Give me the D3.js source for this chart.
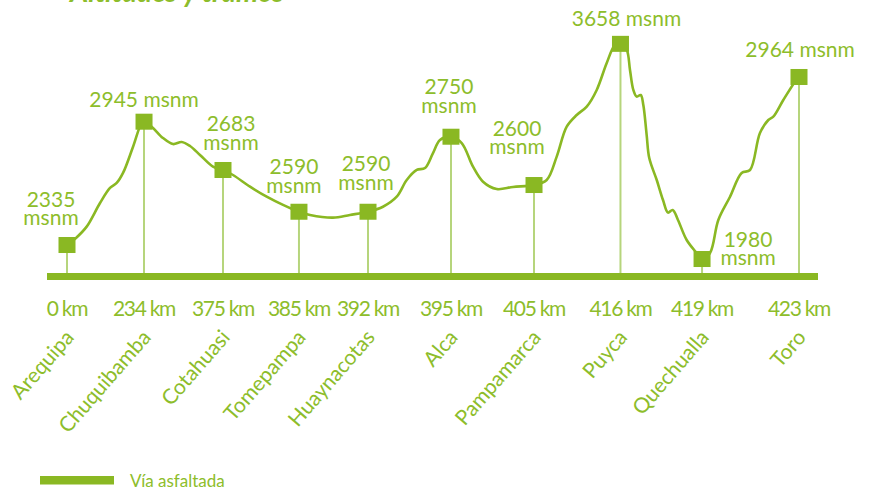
<!DOCTYPE html>
<html>
<head>
<meta charset="utf-8">
<script src="https://cdn.jsdelivr.net/npm/d3@7"></script>
<style>
  body { margin: 0; background: #fff; }
  svg { display: block; font-family: Lato, "Open Sans", sans-serif; }
</style>
</head>
<body>
<svg id="perfil" width="873" height="489"></svg>
<script>
// estaciones del recorrido
var estaciones = ['Arequipa', 'Chuquibamba', 'Cotahuasi', 'Tomepampa', 'Huaynacotas',
                  'Alca', 'Pampamarca', 'Puyca', 'Quechualla', 'Toro'];
var km = [0, 234, 375, 385, 392, 395, 405, 416, 419, 423];
var msnm = [2335, 2945, 2683, 2590, 2590, 2750, 2600, 3658, 1980, 2964];

// posicion de cada estacion en el esquema (no es proporcional a los km)
var posicion = [0, 0.947, 1.918, 2.852, 3.701, 4.721, 5.742, 6.805, 7.808, 9];
// altura dibujada en el esquema (el dibujo original no es proporcional)
var alturaDibujo = [2089, 3049, 2673, 2348, 2348, 2932, 2556, 3655, 1980, 3397];

// trazo del relieve entre estaciones
var perfilPos = [0, 0.111, 0.242, 0.406, 0.529, 0.611, 0.689, 0.811, 0.918, 0.947,
  1.041, 1.180, 1.303, 1.410, 1.512, 1.635, 1.795, 1.918, 2.041, 2.250,
  2.455, 2.656, 2.852, 2.988, 3.270, 3.479, 3.701, 3.885, 4.054, 4.177,
  4.300, 4.402, 4.500, 4.586, 4.721, 4.853, 4.992, 5.115, 5.283, 5.484,
  5.742, 5.898, 6.021, 6.144, 6.267, 6.390, 6.513, 6.636, 6.738, 6.805,
  6.882, 6.922, 6.963, 7.004, 7.054, 7.086, 7.127, 7.159, 7.251, 7.328,
  7.389, 7.447, 7.512, 7.619, 7.742, 7.808, 7.906, 8.008, 8.152, 8.295,
  8.398, 8.520, 8.623, 8.684, 8.807, 8.951, 9.0];
var perfilAlt = [2089, 2144, 2232, 2416, 2533, 2572, 2650, 2852, 3039, 3049,
  3010, 2922, 2875, 2891, 2860, 2790, 2699, 2673, 2634, 2543,
  2465, 2401, 2348, 2323, 2302, 2323, 2348, 2387, 2465, 2595,
  2673, 2689, 2805, 2907, 2932, 2883, 2699, 2582, 2525, 2541,
  2556, 2595, 2777, 3010, 3101, 3166, 3296, 3506, 3646, 3655,
  3607, 3452, 3296, 3244, 3257, 3179, 2945, 2766, 2595, 2439,
  2341, 2362, 2284, 2128, 2027, 1980, 2027, 2284, 2465, 2650,
  2673, 2961, 3062, 3088, 3218, 3360, 3397];

var leyenda = ['Vía asfaltada'];

// colocacion de las etiquetas de altura respecto al marcador
var etiquetaLayout = [
  {dx: -16, dy: -20, lineas: 2}, {dx: 0, dy: -15, lineas: 1},
  {dx: 8, dy: -20, lineas: 2},   {dx: -5, dy: -19, lineas: 2},
  {dx: -2, dy: -22, lineas: 2},  {dx: -2, dy: -24, lineas: 2},
  {dx: -17, dy: -31, lineas: 2}, {dx: 6, dy: -18, lineas: 1},
  {dx: 46, dy: 6, lineas: 2},    {dx: 1, dy: -20, lineas: 1}
];

var verde = '#8ab823';
var verdeTexto = '#8dbd2b';
var verdeClaro = '#b6d57c';

var svg = d3.select('#perfil');

var x = d3.scaleLinear().domain([0, 9]).range([67, 799]);
var y = d3.scaleLinear().domain([1840, 3660]).range([277, 43.2]);
var base = 276.5;

// titulo (cortado en la parte superior)
svg.append('text')
    .attr('x', 70)
    .attr('y', 2)
    .attr('fill', verdeTexto)
    .style('font', 'italic bold 28px Lato, sans-serif')
    .text('Altitudes y tramos');

var puntos = estaciones.map((d, i) => ({
  nombre: d, km: km[i], msnm: msnm[i], pos: posicion[i], alt: alturaDibujo[i], lay: etiquetaLayout[i]
}));

// lineas verticales
svg.append('g')
    .selectAll('line')
    .data(puntos)
    .join('line')
    .attr('x1', d => x(d.pos))
    .attr('x2', d => x(d.pos))
    .attr('y1', d => y(d.alt))
    .attr('y2', base)
    .attr('stroke', verdeClaro)
    .attr('stroke-width', 2);

// barra base
svg.append('rect')
    .attr('x', x(0) - 20)
    .attr('y', base - 3.5)
    .attr('width', x(9) - x(0) + 39)
    .attr('height', 7)
    .attr('fill', verde);

// relieve
var linea = d3.line()
    .x(d => x(d[0]))
    .y(d => y(d[1]))
    .curve(d3.curveCatmullRom.alpha(0.5));

svg.append('path')
    .datum(perfilPos.map((p, i) => [p, perfilAlt[i]]))
    .attr('fill', 'none')
    .attr('stroke', verde)
    .attr('stroke-width', 2.6)
    .attr('stroke-linejoin', 'round')
    .attr('d', linea);

// marcadores
svg.append('g')
    .selectAll('rect')
    .data(puntos)
    .join('rect')
    .attr('x', d => x(d.pos) - 8.5)
    .attr('y', d => y(d.alt) - 8)
    .attr('width', 17)
    .attr('height', 16)
    .attr('fill', verde);

// etiquetas de altura
var etq = svg.append('g')
    .attr('fill', verdeTexto)
    .attr('text-anchor', 'middle')
    .style('font-size', '21px')
    .selectAll('text')
    .data(puntos)
    .join('text')
    .attr('transform', d => `translate(${x(d.pos) + d.lay.dx},${y(d.alt) + d.lay.dy})`);

etq.each(function(d) {
  var t = d3.select(this);
  if (d.lay.lineas === 1) {
    t.append('tspan').attr('x', 0).attr('y', 0).text(d.msnm + ' msnm');
  } else {
    t.append('tspan').attr('x', 0).attr('y', -18.5).text(d.msnm);
    t.append('tspan').attr('x', 0).attr('y', 0).text('msnm');
  }
});

// kilometros
svg.append('g')
    .attr('fill', verdeTexto)
    .attr('text-anchor', 'middle')
    .style('font-size', '21px')
    .style('letter-spacing', '-1.3px')
    .selectAll('text')
    .data(puntos)
    .join('text')
    .attr('x', d => x(d.pos))
    .attr('y', 316)
    .text(d => d.km + ' km');

// nombres de estaciones
svg.append('g')
    .attr('fill', verdeTexto)
    .attr('text-anchor', 'end')
    .style('font-size', '21px')
    .selectAll('text')
    .data(puntos)
    .join('text')
    .attr('transform', d => `translate(${x(d.pos) + 8},338) rotate(-49)`)
    .text(d => d.nombre);

// leyenda
var ley = svg.append('g').attr('transform', 'translate(40,476)');
ley.append('rect')
    .attr('width', 74)
    .attr('height', 8.5)
    .attr('fill', verde);
ley.append('text')
    .attr('x', 90)
    .attr('y', 11)
    .attr('fill', verdeTexto)
    .style('font-size', '17px')
    .text(leyenda[0]);
</script>
</body>
</html>
